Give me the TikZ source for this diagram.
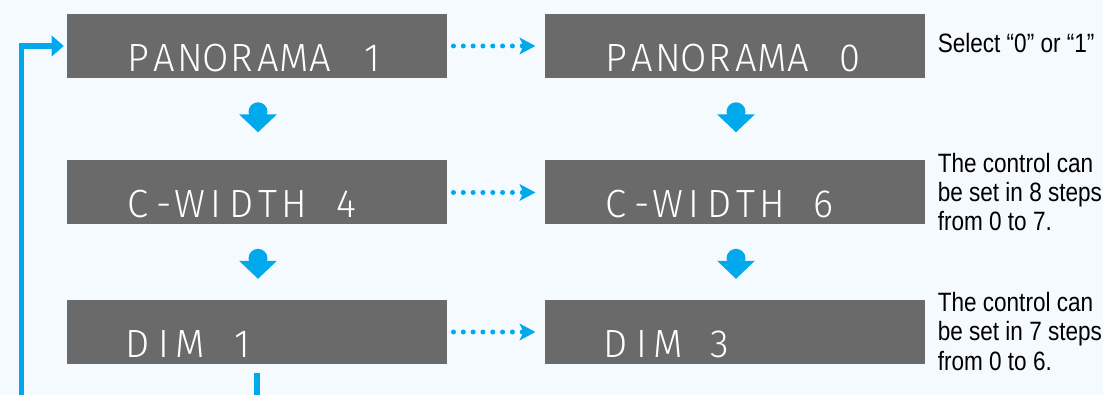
\documentclass[tikz,border=0pt]{standalone}
\usepackage{xcolor}
\usepackage{fontspec}
\usepackage{tikz}
\usetikzlibrary{arrows.meta,calc}

\IfFontExistsTF{Fira Sans Light}
  {\newfontfamily\lcdfont[FakeStretch=0.97]{Fira Sans Light}}
  {\newfontfamily\lcdfont[FakeStretch=0.9]{Liberation Sans}}
\newfontfamily\notefont[FakeStretch=0.85]{Liberation Sans}

\definecolor{bgblue}{HTML}{F5FAFE}
\definecolor{boxgray}{HTML}{6A6A6A}
\definecolor{arrowblue}{HTML}{00A8EC}

% one character per display cell
\makeatletter
\newcommand\lcd[1]{\lcd@next#1\@nil}
\def\lcd@next#1{\ifx#1\@nil\else\makebox[19.5pt][c]{#1}\expandafter\lcd@next\fi}
\makeatother

\begin{document}
\begin{tikzpicture}[x=0.75pt, y=-0.75pt,
    dispbox/.style={fill=boxgray, draw=none, inner sep=0pt, minimum width=285pt, minimum height=48pt},
    disptext/.style={anchor=base west, inner sep=0pt, text=white, font=\lcdfont\fontsize{29.5pt}{30pt}\selectfont},
    notetext/.style={anchor=base west, inner sep=0pt, align=left, text=black, font=\notefont\fontsize{19.9pt}{22.1pt}\selectfont},
    dotline/.style={draw=arrowblue, line width=3.75pt, line cap=round, dash pattern=on 0pt off 7.37pt,
        shorten <=4.65pt, shorten >=7pt, -{Stealth[length=12pt, width=12.75pt, inset=3pt, line width=0pt]}},
    loopline/.style={draw=arrowblue, line width=4.1pt, shorten <=6.75pt, shorten >=2.25pt,
        -{Triangle[length=9pt, width=15.75pt, line width=0pt]}},
    pics/downarrow/.style={code={
        \fill[arrowblue] (0,9.5) circle (7.1pt);
        \fill[arrowblue] (-19,12) -- (19,12) -- (0,30) -- cycle;
    }}]
    \useasboundingbox (0,0) rectangle (1103,395);
    \fill[bgblue] (0,0) rectangle (1103,395);
    \clip (0,0) rectangle (1103,395);

    % Display boxes
    \node[dispbox] (pan1) at (257,46) {};
    \node[dispbox] (pan0) at (735,46) {};
    \node[dispbox] (cw4) at (257,192.5) {};
    \node[dispbox] (cw6) at (735,192.5) {};
    \node[dispbox] (dim1) at (257,332) {};
    \node[dispbox] (dim3) at (735,332) {};

    % Display texts
    \node[disptext] (pan1txt) at ($(pan1.south west)+(58,-7)$) {\lcd{PANORAMA~1}};
    \node[disptext] (pan0txt) at ($(pan0.south west)+(58,-7)$) {\lcd{PANORAMA~0}};
    \node[disptext] (cw4txt) at ($(cw4.south west)+(58,-7)$) {\lcd{C-WIDTH~4}};
    \node[disptext] (cw6txt) at ($(cw6.south west)+(58,-7)$) {\lcd{C-WIDTH~6}};
    \node[disptext] (dim1txt) at ($(dim1.south west)+(58,-7)$) {\lcd{DIM~1}};
    \node[disptext] (dim3txt) at ($(dim3.south west)+(58,-7)$) {\lcd{DIM~3}};

    % Notes
    \node[notetext] (note1) at (937.5,53) {Select “0” or “1”};
    \node[notetext] (note2) at (937.5,231) {The control can\\be set in 8 steps\\from 0 to 7.};
    \node[notetext] (note3) at (937.5,370) {The control can\\be set in 7 steps\\from 0 to 6.};

    % Dotted arrows
    \draw[dotline] (pan1) -- (pan0);
    \draw[dotline] (cw4) -- (cw6);
    \draw[dotline] (dim1) -- (dim3);

    % Down arrows
    \foreach \a in {pan1,pan0,cw4,cw6}
        \pic at ($(\a.south)+(1,24)$) {downarrow};

    % Loop back
    \draw[loopline] (dim1.south) -- ++(0,60) -| ($(pan1.west)+(-45,0)$) -- (pan1.west);
\end{tikzpicture}
\end{document}
